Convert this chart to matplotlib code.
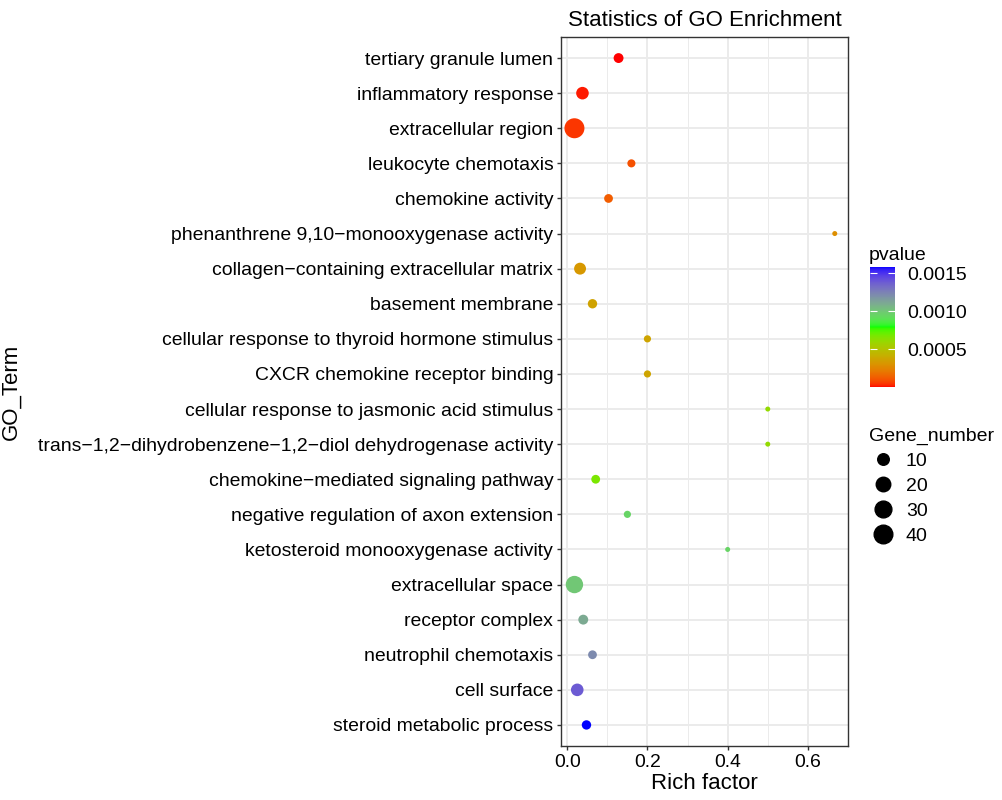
import numpy as np
import matplotlib
matplotlib.use("Agg")
import matplotlib.pyplot as plt
from matplotlib.colors import ListedColormap, Normalize
from matplotlib.lines import Line2D

plt.rcParams['font.family'] = ['Liberation Sans', 'DejaVu Sans']

# GO terms, top to bottom
terms = [
    "tertiary granule lumen",
    "inflammatory response",
    "extracellular region",
    "leukocyte chemotaxis",
    "chemokine activity",
    "phenanthrene 9,10\u2212monooxygenase activity",
    "collagen\u2212containing extracellular matrix",
    "basement membrane",
    "cellular response to thyroid hormone stimulus",
    "CXCR chemokine receptor binding",
    "cellular response to jasmonic acid stimulus",
    "trans\u22121,2\u2212dihydrobenzene\u22121,2\u2212diol dehydrogenase activity",
    "chemokine\u2212mediated signaling pathway",
    "negative regulation of axon extension",
    "ketosteroid monooxygenase activity",
    "extracellular space",
    "receptor complex",
    "neutrophil chemotaxis",
    "cell surface",
    "steroid metabolic process",
]
rich_factor = [0.128, 0.038, 0.018, 0.160, 0.103, 0.667, 0.032, 0.063, 0.200, 0.200,
               0.500, 0.500, 0.071, 0.150, 0.400, 0.018, 0.040, 0.063, 0.025, 0.048]
gene_number = [6, 13, 48, 3, 4, 1, 11, 5, 2, 2,
               1, 1, 4, 2, 1, 33, 6, 4, 13, 5]
pvalue = [0.000002, 0.00002, 0.00005, 0.00010, 0.00013, 0.00028, 0.00032, 0.00036, 0.00037, 0.00037,
          0.00061, 0.00061, 0.00067, 0.00095, 0.00095, 0.00100, 0.00110, 0.00122, 0.00138, 0.00158]

size_breaks = [10, 20, 30, 40]
pvalue_ticks = [0.0005, 0.0010, 0.0015]


# red -> green -> blue gradient interpolated in Lab space (like ggplot)
def srgb_to_lab(rgb):
    rgb = np.asarray(rgb, float)
    c = np.where(rgb <= 0.04045, rgb / 12.92, ((rgb + 0.055) / 1.055) ** 2.4)
    M = np.array([[0.4124, 0.3576, 0.1805], [0.2126, 0.7152, 0.0722], [0.0193, 0.1192, 0.9505]])
    xyz = M @ c / np.array([0.95047, 1.0, 1.08883])
    f = np.where(xyz > 0.008856, np.cbrt(xyz), 7.787 * xyz + 16 / 116)
    return np.array([116 * f[1] - 16, 500 * (f[0] - f[1]), 200 * (f[1] - f[2])])


def lab_to_srgb(lab):
    L, a, b = lab
    fy = (L + 16) / 116
    fx = fy + a / 500
    fz = fy - b / 200
    f = np.array([fx, fy, fz])
    xyz = np.where(f ** 3 > 0.008856, f ** 3, (f - 16 / 116) / 7.787) * np.array([0.95047, 1.0, 1.08883])
    Minv = np.linalg.inv(np.array([[0.4124, 0.3576, 0.1805], [0.2126, 0.7152, 0.0722], [0.0193, 0.1192, 0.9505]]))
    c = np.clip(Minv @ xyz, 0, 1)
    return np.where(c <= 0.0031308, 12.92 * c, 1.055 * c ** (1 / 2.4) - 0.055).clip(0, 1)


anchors = [srgb_to_lab(c) for c in ([1, 0, 0], [0, 1, 0], [0, 0, 1])]
cols = []
for t in np.linspace(0, 1, 256):
    if t <= 0.5:
        lab = anchors[0] + (anchors[1] - anchors[0]) * (t / 0.5)
    else:
        lab = anchors[1] + (anchors[2] - anchors[1]) * ((t - 0.5) / 0.5)
    cols.append(lab_to_srgb(lab))
cmap = ListedColormap(cols)
norm = Normalize(vmin=min(pvalue), vmax=max(pvalue))


# point size like scale_size (area), diameter in pixels -> points^2
def point_area(n):
    n = np.asarray(n, float)
    d_px = 5 + 15 * np.sqrt((n - min(gene_number)) / (max(gene_number) - min(gene_number)))
    return (d_px * 0.72) ** 2


fig = plt.figure(figsize=(10.02, 8), dpi=100)
ax = fig.add_axes([561 / 1002, 1 - 746 / 800, 287 / 1002, 709 / 800])

ypos = np.arange(len(terms))[::-1] + 1
ax.set_axisbelow(True)
ax.scatter(rich_factor, ypos, s=point_area(gene_number), c=pvalue, cmap=cmap, norm=norm,
           edgecolors='none', zorder=3)

ax.set_xlim(-0.0155, 0.70)
ax.set_ylim(0.4, len(terms) + 0.6)
ax.set_yticks(ypos)
ax.set_yticklabels(terms)
ax.set_xticks([0.0, 0.2, 0.4, 0.6])
ax.set_xticklabels(["0.0", "0.2", "0.4", "0.6"])
ax.set_xticks([0.1, 0.3, 0.5], minor=True)
ax.grid(which='major', color='#EBEBEB', linewidth=1.4)
ax.grid(which='minor', axis='x', color='#EBEBEB', linewidth=0.7)
ax.tick_params(axis='both', which='major', labelsize=13.92, length=3, width=1, color='#333333',
               labelcolor='black', pad=2.5)
ax.tick_params(axis='x', which='minor', length=0)
for s in ax.spines.values():
    s.set_color('#333333')
    s.set_linewidth(1.0)

ax.set_xlabel("Rich factor", fontsize=16, labelpad=2)
ax.set_ylabel("GO_Term", fontsize=16)
ax.yaxis.set_label_coords(-(561 - 22) / 287, 0.5)
ax.set_title("Statistics of GO Enrichment", fontsize=16, pad=8)

# colour bar
cax = fig.add_axes([870 / 1002, 1 - 387 / 800, 25 / 1002, 120 / 800])
sm = plt.cm.ScalarMappable(norm=norm, cmap=cmap)
cb = fig.colorbar(sm, cax=cax, ticks=pvalue_ticks)
cb.outline.set_visible(False)
cb.ax.set_yticklabels(["%.4f" % v for v in pvalue_ticks])
cax.tick_params(axis='y', direction='in', length=5, width=0.8, color='white',
                left=True, right=True, labelleft=False, labelright=True, labelsize=14, pad=9)
fig.text(869 / 1002, 1 - 256 / 800, "pvalue", fontsize=14, ha='left', va='center')

# size legend
handles = [Line2D([], [], marker='o', linestyle='none', color='black',
                  markersize=np.sqrt(point_area(b))) for b in size_breaks]
leg = fig.legend(handles, [str(b) for b in size_breaks], title="Gene_number",
                 loc='upper left', bbox_to_anchor=(861 / 1002, 1 - 420 / 800),
                 frameon=False, fontsize=14, title_fontsize=14, handletextpad=0.4,
                 labelspacing=0.38, borderaxespad=0, handlelength=1.5)
leg._legend_box.align = "left"

fig.savefig("out.png", dpi=100)
